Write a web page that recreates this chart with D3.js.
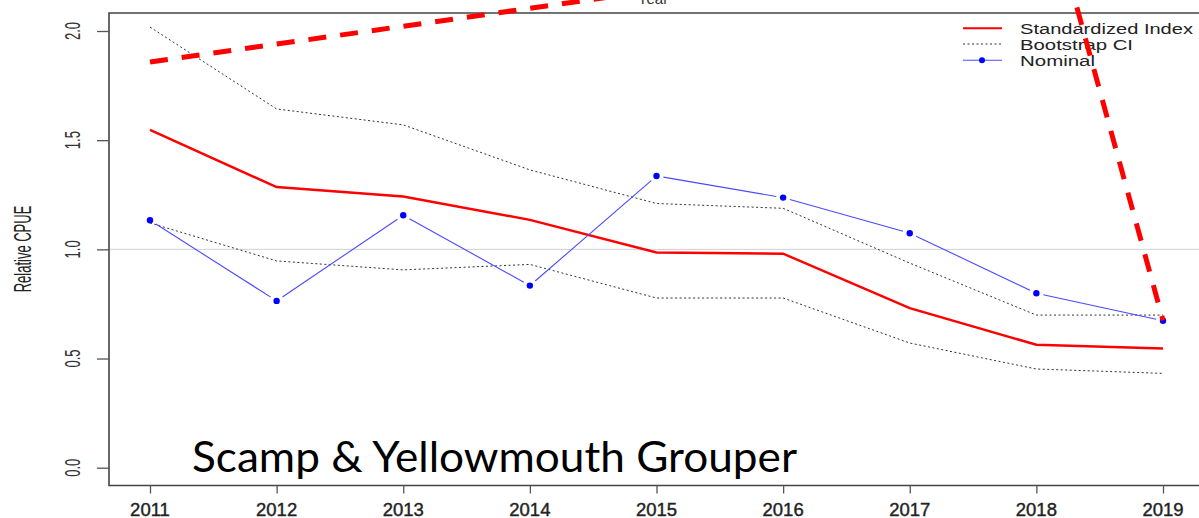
<!doctype html>
<html>
<head>
  <title>Scamp & Yellowmouth Grouper - Relative CPUE</title>
  <meta charset="UTF-8">
  <script src="https://d3js.org/d3.v7.min.js"></script>
  <style>
    body { margin: 0; background: #ffffff; }
    svg { display: block; }
  </style>
</head>
<body>
  <div id="svg_area"></div>
</body>
</html>
<script>

// data
var years = [2011, 2012, 2013, 2014, 2015, 2016, 2017, 2018, 2019];
var stdIndex = [1.547, 1.285, 1.242, 1.135, 0.986, 0.980, 0.731, 0.563, 0.546];
var ciUpper = [2.018, 1.643, 1.570, 1.364, 1.210, 1.188, 0.937, 0.699, 0.699];
var ciLower = [1.121, 0.947, 0.906, 0.931, 0.777, 0.777, 0.571, 0.452, 0.432];
var nominal = [1.133, 0.764, 1.156, 0.834, 1.336, 1.237, 1.074, 0.799, 0.673];
var yTicks = [0, 0.5, 1.0, 1.5, 2.0];
var yTickLabels = ["0.0", "0.5", "1.0", "1.5", "2.0"];
var legendNames = ["Standardized Index", "Bootstrap CI", "Nominal"];

// the red dashed annotation (in year / CPUE units)
var annoX = [2011, 2018.16, 2019];
var annoY = [1.858, 2.445, 0.675];

var W = 1199, H = 518;

var svg = d3.select("#svg_area").append("svg")
    .attr("width", W)
    .attr("height", H);

// scales
var x = d3.scaleLinear().domain([2011, 2019]).range([150, 1163]);
var y = d3.scaleLinear().domain([0, 2]).range([467.7, 31]);

var frameLeft = 109, frameTop = 13, frameBottom = 485.5;

// reference line at 1.0
svg.append("line")
    .attr("x1", frameLeft).attr("x2", W)
    .attr("y1", y(1)).attr("y2", y(1))
    .attr("stroke", "#d0d0d0")
    .attr("stroke-width", 1);

// frame (box, right side runs off the picture)
svg.append("path")
    .attr("d", "M" + (W + 5) + "," + frameTop + "H" + frameLeft + "V" + frameBottom + "H" + (W + 5))
    .attr("fill", "none")
    .attr("stroke", "#444")
    .attr("stroke-width", 1.6);

// y axis ticks
var yAxis = d3.axisLeft(y).tickValues(yTicks).tickSize(12).tickFormat("");
var gy = svg.append("g")
    .attr("transform", "translate(" + frameLeft + ",0)")
    .call(yAxis);
gy.select(".domain").remove();
gy.selectAll(".tick line").attr("stroke", "#555").attr("stroke-width", 1.3);

// y tick labels, rotated like R does
svg.selectAll(".ylab")
    .data(yTicks)
    .enter()
    .append("text")
    .attr("class", "ylab")
    .attr("transform", function(d) { return "translate(80," + y(d) + ") scale(1.7,1) rotate(-90)"; })
    .attr("text-anchor", "middle")
    .attr("font-family", "Liberation Sans, Arial, sans-serif")
    .attr("font-size", "13px")
    .attr("fill", "#333")
    .text(function(d, i) { return yTickLabels[i]; });

// x axis ticks
var xAxis = d3.axisBottom(x).tickValues(years).tickSize(8).tickFormat("");
var gx = svg.append("g")
    .attr("transform", "translate(0," + frameBottom + ")")
    .call(xAxis);
gx.select(".domain").remove();
gx.selectAll(".tick line").attr("stroke", "#555").attr("stroke-width", 1.3);

svg.selectAll(".xlab")
    .data(years)
    .enter()
    .append("text")
    .attr("class", "xlab")
    .attr("x", function(d) { return x(d); })
    .attr("y", 516)
    .attr("text-anchor", "middle")
    .attr("font-family", "Liberation Sans, Arial, sans-serif")
    .attr("font-size", "18.5px")
    .attr("fill", "#222")
    .attr("stroke", "#222")
    .attr("stroke-width", 0.4)
    .text(function(d) { return d; });

// axis titles
svg.append("text")
    .attr("transform", "translate(31,249) scale(1.9,1) rotate(-90)")
    .attr("text-anchor", "middle")
    .attr("font-family", "Liberation Sans, Arial, sans-serif")
    .attr("font-size", "13px")
    .attr("fill", "#222")
    .text("Relative CPUE");

svg.append("text")
    .attr("x", 653).attr("y", 4)
    .attr("text-anchor", "middle")
    .attr("font-family", "Liberation Sans, Arial, sans-serif")
    .attr("font-size", "15px")
    .attr("fill", "#333")
    .text("Year");

// lines
var line = d3.line()
    .x(function(d, i) { return x(years[i]); })
    .y(function(d) { return y(d); });

[ciUpper, ciLower].forEach(function(s) {
  svg.append("path")
      .attr("d", line(s))
      .attr("fill", "none")
      .attr("stroke", "#333")
      .attr("stroke-width", 1)
      .attr("stroke-dasharray", "2,2.5");
});

svg.append("path")
    .attr("d", line(stdIndex))
    .attr("fill", "none")
    .attr("stroke", "#ff0000")
    .attr("stroke-width", 2.5);

// nominal: type "b" -> segments with a gap round each point
var gap = 7;
var segs = [];
for (var i = 0; i < years.length - 1; i++) {
  var x1 = x(years[i]), y1 = y(nominal[i]);
  var x2 = x(years[i + 1]), y2 = y(nominal[i + 1]);
  var len = Math.sqrt((x2 - x1) * (x2 - x1) + (y2 - y1) * (y2 - y1));
  var ux = (x2 - x1) / len, uy = (y2 - y1) / len;
  segs.push([x1 + ux * gap, y1 + uy * gap, x2 - ux * gap, y2 - uy * gap]);
}
svg.selectAll(".nomseg")
    .data(segs)
    .enter()
    .append("line")
    .attr("x1", function(d) { return d[0]; })
    .attr("y1", function(d) { return d[1]; })
    .attr("x2", function(d) { return d[2]; })
    .attr("y2", function(d) { return d[3]; })
    .attr("stroke", "#4a4aff")
    .attr("stroke-width", 1.1);

svg.selectAll(".nompt")
    .data(nominal)
    .enter()
    .append("circle")
    .attr("cx", function(d, i) { return x(years[i]); })
    .attr("cy", function(d) { return y(d); })
    .attr("r", 3.2)
    .attr("fill", "#0000ff");

// legend (no box)
var legY = [28.3, 44, 60.3];
var legLen = [173, 113, 75];
var leg = svg.append("g");
leg.append("line").attr("x1", 963).attr("x2", 1002).attr("y1", legY[0]).attr("y2", legY[0])
    .attr("stroke", "#ff0000").attr("stroke-width", 2);
leg.append("line").attr("x1", 963).attr("x2", 1002).attr("y1", legY[1]).attr("y2", legY[1])
    .attr("stroke", "#333").attr("stroke-width", 1).attr("stroke-dasharray", "2,2.5");
leg.append("line").attr("x1", 963).attr("x2", 1002).attr("y1", legY[2]).attr("y2", legY[2])
    .attr("stroke", "#4a4aff").attr("stroke-width", 1.1);
leg.append("circle").attr("cx", 982).attr("cy", legY[2]).attr("r", 3).attr("fill", "#0000ff");
leg.selectAll("text")
    .data(legendNames)
    .enter()
    .append("text")
    .attr("x", 1020)
    .attr("y", function(d, i) { return legY[i] + 5.5; })
    .attr("textLength", function(d, i) { return legLen[i]; })
    .attr("lengthAdjust", "spacingAndGlyphs")
    .attr("font-family", "Liberation Sans, Arial, sans-serif")
    .attr("font-size", "15.5px")
    .attr("fill", "#222")
    .text(function(d) { return d; });

// red dashed annotation
var annoLine = d3.line()
    .x(function(d, i) { return x(annoX[i]); })
    .y(function(d) { return y(d); });
svg.append("path")
    .attr("d", annoLine(annoY))
    .attr("fill", "none")
    .attr("stroke", "#ff0000")
    .attr("stroke-width", 5)
    .attr("stroke-dasharray", "18,14");

// big caption
svg.append("text")
    .attr("x", 192).attr("y", 472)
    .attr("textLength", 605)
    .attr("lengthAdjust", "spacingAndGlyphs")
    .attr("font-family", "Lato, Open Sans, sans-serif")
    .attr("font-size", "42px")
    .attr("fill", "#000")
    .text("Scamp & Yellowmouth Grouper");

</script>
